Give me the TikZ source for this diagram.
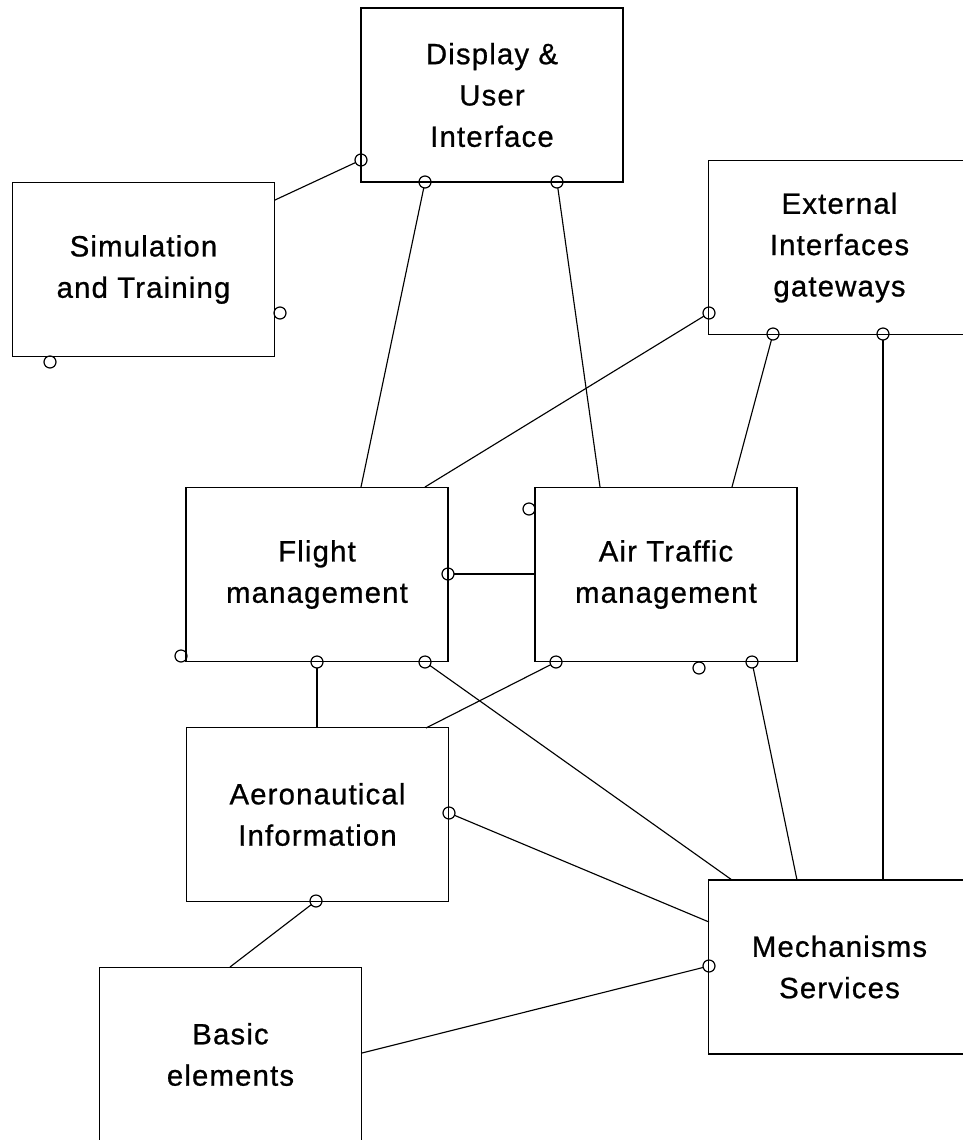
\documentclass[tikz,border=0pt]{standalone}
\usepackage{fontspec}
\setmainfont{Liberation Sans}
\tikzset{every picture/.style={line width=0.75pt}}
\tikzset{
  blk/.style={draw, rectangle, line width=1.2pt, minimum width=196.5pt, minimum height=130.5pt,
    inner sep=0pt, outer sep=0pt, align=center,
    font=\fontsize{22}{31}\selectfont\addfontfeatures{LetterSpace=4,FakeBold=0.8}},
  port/.style={draw, circle, line width=0.9pt, minimum size=9pt, inner sep=0pt, outer sep=0pt},
  lnk/.style={line width=0.85pt}
}
\begin{document}
\begin{tikzpicture}[x=0.75pt,y=0.75pt,yscale=-1]
\useasboundingbox (0,0) rectangle (963,1140);
% Text Node
\node[blk] (dsp) at (492,95) {Display \&\\User\\Interface};
% Text Node
\node[blk] (sim) at (143.5,269.5) {Simulation\\and Training};
% Text Node
\node[blk] (ext) at (839.5,247.5) {External\\Interfaces\\gateways};
% Text Node
\node[blk] (flt) at (317,574.5) {Flight\\management};
% Text Node
\node[blk] (atm) at (666,574.5) {Air Traffic\\management};
% Text Node
\node[blk] (aer) at (317.5,814.5) {Aeronautical\\Information};
% Text Node
\node[blk] (mec) at (839.5,967) {Mechanisms\\Services};
% Text Node
\node[blk] (bas) at (230.5,1054.5) {Basic\\elements};
%Ports
\node[port] (dspW) at (361,160) {};
\node[port] (dspS1) at (425,182) {};
\node[port] (dspS2) at (557,182) {};
\node[port] (simE) at (280,313) {};
\node[port] (simS) at (50,362) {};
\node[port] (extW) at (709,313) {};
\node[port] (extS1) at (773,334) {};
\node[port] (extS2) at (883,334) {};
\node[port] (fltE) at (448,574) {};
\node[port] (fltW) at (181,656) {};
\node[port] (fltS1) at (317,662) {};
\node[port] (fltS2) at (425,662) {};
\node[port] (atmW) at (529,509) {};
\node[port] (atmS1) at (556,662) {};
\node[port] (atmS0) at (699,668) {};
\node[port] (atmS2) at (752,662) {};
\node[port] (aerE) at (449,813) {};
\node[port] (aerS) at (316,901) {};
\node[port] (mecW) at (709,966) {};
%Line ends
\coordinate (simNE) at (275,200);
\coordinate (fltN1) at (361,487);
\coordinate (fltN2) at (425,487);
\coordinate (atmN1) at (600,487);
\coordinate (atmN2) at (732,487);
\coordinate (atmW2) at (535,574);
\coordinate (aerN1) at (317,728);
\coordinate (aerN2) at (426,728);
\coordinate (mecN1) at (732,880);
\coordinate (mecN2) at (797,880);
\coordinate (mecN3) at (883,880);
\coordinate (mecW2) at (709,922);
\coordinate (basN) at (230,967);
\coordinate (basE) at (362,1053);
%Straight Lines
\draw[lnk] (simNE) -- (dspW);
\draw[lnk] (dspS1) -- (fltN1);
\draw[lnk] (dspS2) -- (atmN1);
\draw[lnk] (extW) -- (fltN2);
\draw[lnk] (extS1) -- (atmN2);
\draw[lnk] (extS2) -- (mecN3);
\draw[lnk] (fltE) -- (atmW2);
\draw[lnk] (fltS1) -- (aerN1);
\draw[lnk] (fltS2) -- (mecN1);
\draw[lnk] (atmS1) -- (aerN2);
\draw[lnk] (atmS2) -- (mecN2);
\draw[lnk] (aerE) -- (mecW2);
\draw[lnk] (aerS) -- (basN);
\draw[lnk] (mecW) -- (basE);
\end{tikzpicture}
\end{document}
